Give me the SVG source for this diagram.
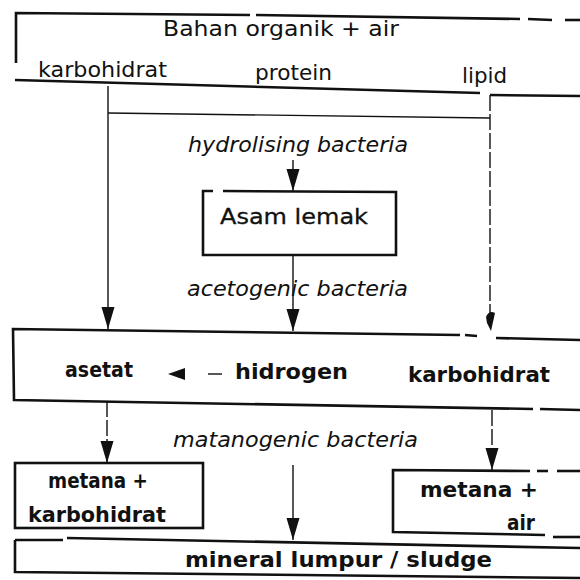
<svg xmlns="http://www.w3.org/2000/svg" width="580" height="580" viewBox="0 0 580 580">
<style>
.t{font-family:"DejaVu Sans","Liberation Sans",sans-serif;fill:#111;}
.n{font-size:22px;}
.k{font-size:21px;font-weight:bold;}
.i{font-size:22px;font-style:italic;}
.b{fill:none;stroke:#111;stroke-width:2.6;}
.c{fill:none;stroke:#111;stroke-width:1.4;}
.d{fill:none;stroke:#111;stroke-width:1.4;stroke-dasharray:16 3;}
</style>
<defs>
<marker id="ah" viewBox="0 0 22 14" refX="22" refY="7" markerWidth="22" markerHeight="14" markerUnits="userSpaceOnUse" orient="auto">
<path d="M0,0.5 L22,7 L0,13.5 Z" fill="#111"/>
</marker>
</defs>
<rect width="580" height="580" fill="#fff"/>

<g id="node-bahan">
<polyline class="b" points="16,63 16,13 250,15"/>
<polyline class="b" points="256,15 520,19"/>
<polyline class="b" points="528,19 552,20"/>
<polyline class="b" points="565,20 580,20"/>
<polyline class="b" points="15,80 480,93"/>
<polyline class="b" points="490,95 580,96"/>
<text class="t n" x="163" y="36" font-size="23.5" textLength="236" lengthAdjust="spacingAndGlyphs">Bahan organik + air</text>
<text class="t n" x="38" y="77" textLength="129" lengthAdjust="spacingAndGlyphs">karbohidrat</text>
<text class="t n" x="255" y="80" textLength="77" lengthAdjust="spacingAndGlyphs">protein</text>
<text class="t n" x="462" y="83" textLength="45" lengthAdjust="spacingAndGlyphs">lipid</text>
</g>

<g id="node-asam">
<polyline class="b" points="213,191 203,191 203,255 396,255 396,192 223,191"/>
<text class="t n" x="220" y="224" font-size="24" textLength="148" lengthAdjust="spacingAndGlyphs" stroke="#111" stroke-width="0.3">Asam lemak</text>
</g>

<g id="node-tengah">
<polyline class="b" points="460,335 13,329 14,400 533,409"/>
<polyline class="b" points="465,335 477,336"/>
<polyline class="b" points="496,338 580,340"/>
<polyline class="b" points="540,409 580,410"/>
<text class="t k" x="65" y="377" textLength="68" lengthAdjust="spacingAndGlyphs">asetat</text>
<text class="t k" x="235" y="379" textLength="113" lengthAdjust="spacingAndGlyphs">hidrogen</text>
<text class="t k" x="408" y="382" textLength="142" lengthAdjust="spacingAndGlyphs">karbohidrat</text>
</g>

<g id="node-metana1">
<rect class="b" x="15" y="463" width="188" height="65"/>
<text class="t k" x="48" y="488" textLength="100" lengthAdjust="spacingAndGlyphs">metana +</text>
<text class="t k" x="28" y="522" textLength="138" lengthAdjust="spacingAndGlyphs">karbohidrat</text>
</g>

<g id="node-metana2">
<polyline class="b" points="530,471 393,470 393,532 545,535"/>
<polyline class="b" points="537,471 548,471"/>
<polyline class="b" points="557,471 580,471"/>
<polyline class="b" points="553,537 580,537"/>
<text class="t k" x="420" y="497" textLength="118" lengthAdjust="spacingAndGlyphs">metana  +</text>
<text class="t k" x="507" y="530" textLength="28" lengthAdjust="spacingAndGlyphs">air</text>
</g>

<g id="node-mineral">
<polyline class="b" points="15,540 63,540"/>
<polyline class="b" points="67,538 580,548"/>
<polyline class="b" points="15,540 15,572 580,578"/>
<text class="t k" x="185" y="567" textLength="307" lengthAdjust="spacingAndGlyphs">mineral lumpur / sludge</text>
</g>

<g id="labels">
<text class="t i" x="188" y="152" textLength="220" lengthAdjust="spacingAndGlyphs">hydrolising bacteria</text>
<text class="t i" x="187" y="296" textLength="221" lengthAdjust="spacingAndGlyphs">acetogenic bacteria</text>
<text class="t i" x="173" y="447" textLength="245" lengthAdjust="spacingAndGlyphs">matanogenic bacteria</text>
</g>

<g id="connectors">
<line class="c" x1="108" y1="86" x2="108" y2="329" marker-end="url(#ah)"/>
<polyline class="c" points="108,113 490,118"/>
<line class="d" x1="490" y1="95" x2="490" y2="314"/>
<path d="M486,317 Q489,310 495,313 L491,331 L487,323 Z" fill="#111"/>
<line class="c" x1="293" y1="160" x2="293" y2="191" marker-end="url(#ah)"/>
<line class="c" x1="293" y1="255" x2="293" y2="331" marker-end="url(#ah)"/>
<polygon points="168,374 185,368 185,380" fill="#111"/>
<line class="c" x1="208" y1="374" x2="222" y2="374"/>
<line class="d" x1="107" y1="401" x2="107" y2="463" marker-end="url(#ah)"/>
<line class="d" x1="492" y1="410" x2="492" y2="470" marker-end="url(#ah)"/>
<line class="c" x1="293" y1="465" x2="293" y2="540" marker-end="url(#ah)"/>
</g>
</svg>
